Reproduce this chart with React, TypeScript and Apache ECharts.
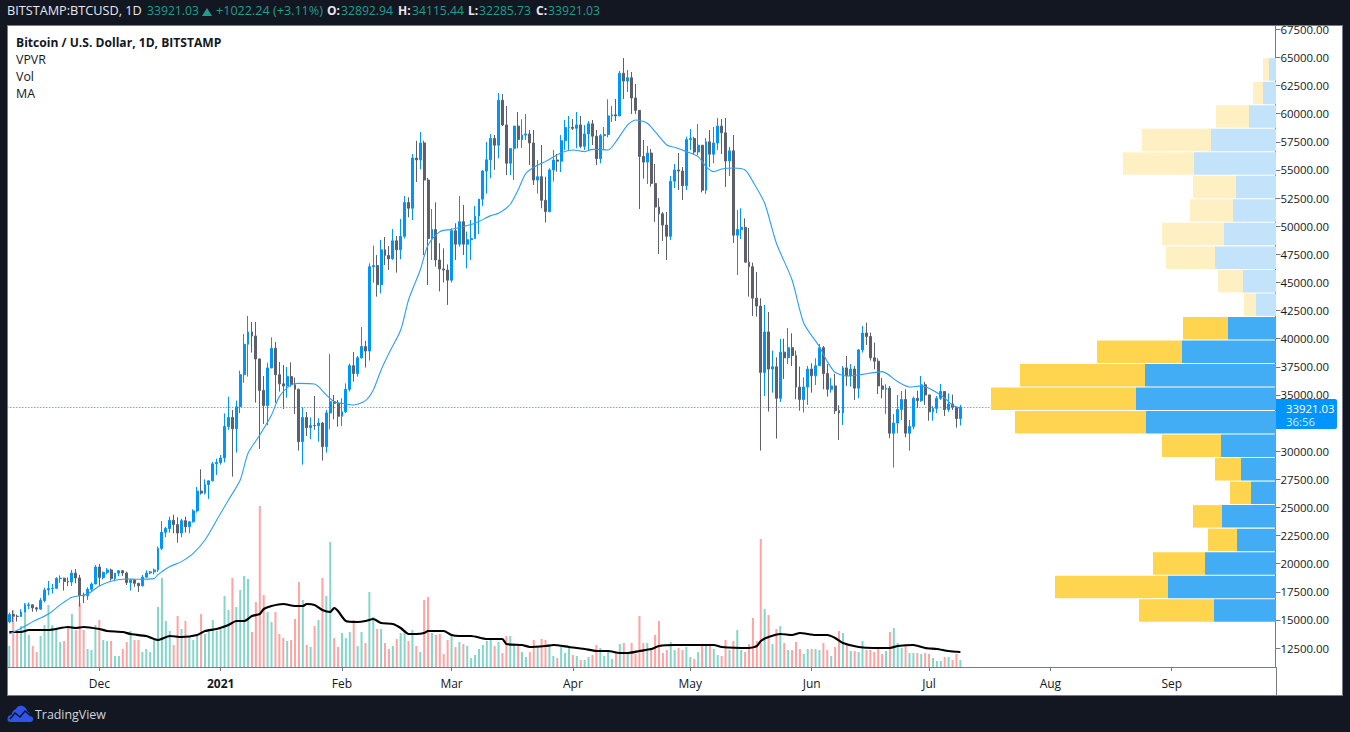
import React, { useEffect, useRef } from "react";
import * as echarts from "echarts";

const font = '"Open Sans", sans-serif';

const opens = [
  14830,15480,15330,15300,15700,16290,16340,16070,15960,16720,17660,17780,17810,18680,18710,18420,18370,19160,18730,17150,17140,17720,18190,
  19700,18770,19220,19440,18660,19150,19370,19170,18320,18550,18250,18030,18800,19170,19270,19440,21360,22790,23120,23850,23470,22720,23820,23280,23720,24690,26450,26270,27030,27360,28870,
  28990,29390,32190,33000,31990,33950,36800,39500,40600,40240,38200,35400,34050,37400,39150,36800,35990,35800,36630,35900,35500,30850,33000,32090,32280,32260,32500,30400,33400,34400,34250,
  33100,33500,35500,37600,36900,38300,39300,38900,46400,46500,44800,47900,47400,47100,48700,47900,49100,52100,51600,56060,55890,57400,54100,48900,49700,47000,46200,46100,
  45200,49600,48400,50400,48400,48800,48900,50900,52400,54900,55900,57800,57200,61200,59000,55600,56900,58900,57700,58100,58200,57400,54100,54400,52300,51300,55000,55880,55780,57600,58780,
  58800,58700,59000,57100,58200,59100,58000,56000,58050,58150,59800,59900,59800,63600,62900,63200,61400,60300,56200,55700,56500,53800,51700,51100,50100,49100,54000,55000,54900,53600,
  57700,57800,56600,57200,53200,57500,56400,57400,58900,58300,55800,56700,49200,49700,49900,46800,46400,43600,42900,37000,40600,37300,37500,34700,38800,38300,39200,38500,35700,34600,35700,
  37300,36700,37600,39200,36900,35500,35800,33600,33400,37400,36700,37300,35600,39000,40500,40200,38300,38000,35800,35500,35600,31600,32500,33700,34600,31600,32200,34700,34500,35900,
  35000,33500,33800,34700,35300,33700,34200,33900,32892.94,
];
const closes = [
  15480,15330,15300,15700,16290,16340,16070,15960,16720,17660,17780,17810,18680,18710,18420,18370,19160,18730,17150,17140,17720,18190,19700,
  18770,19220,19440,18660,19150,19370,19170,18320,18550,18250,18030,18800,19170,19270,19440,21360,22790,23120,23850,23470,22720,23820,23280,23720,24690,26450,26270,27030,27360,28870,28990,
  29390,32190,33000,31990,33950,36800,39500,40600,40240,38200,35400,34050,37400,39150,36800,35990,35800,36630,35900,35500,30850,33000,32090,32280,32260,32500,30400,33400,34400,34250,33100,
  33500,35500,37600,36900,38300,39300,38900,46400,46500,44800,47900,47400,47100,48700,47900,49100,52100,51600,56060,55890,57400,54100,48900,49700,47000,46200,46100,45200,
  49600,48400,50400,48400,48800,48900,50900,52400,54900,55900,57800,57200,61200,59000,55600,56900,58900,57700,58100,58200,57400,54100,54400,52300,51300,55000,55880,55780,57600,58780,58800,
  58700,59000,57100,58200,59100,58000,56000,58050,58150,59800,59900,59800,63600,62900,63200,61400,60300,56200,55700,56500,53800,51700,51100,50100,49100,54000,55000,54900,53600,57700,
  57800,56600,57200,53200,57500,56400,57400,58900,58300,55800,56700,49200,49700,49900,46800,46400,43600,42900,37000,40600,37300,37500,34700,38800,38300,39200,38500,35700,34600,35700,37300,
  36700,37600,39200,36900,35500,35800,33600,33400,37400,36700,37300,35600,39000,40500,40200,38300,38000,35800,35500,35600,31600,32500,33700,34600,31600,32200,34700,34500,35900,35000,
  33500,33800,34700,35300,33700,34200,33900,32900,33921.03,
];
const highs = [
  15650,15830,15470,15950,16480,16540,16340,16170,16950,17860,18460,18190,18800,18960,18750,18770,19440,19520,19000,17420,17900,18340,19880,
  19970,19300,19600,19560,19180,19430,19420,19290,18650,18600,18290,18990,19400,19350,19570,21520,23780,23280,24170,24350,24120,23990,24180,23800,24830,26816,28386,27500,27400,29040,29335,
  29660,33360,34840,33660,34500,37160,40420,42020,41480,41480,38230,36680,37870,40120,39700,37930,37660,37480,37900,36540,35560,33900,33480,33000,34900,32920,32600,33660,38640,35000,34550,
  34700,36030,37790,38820,38460,41040,39800,46700,48270,47440,48780,49040,48240,49750,49130,50640,52680,52570,56420,57600,58380,57600,54300,51530,52120,48480,48030,46600,
  49800,50260,52690,51890,49520,50550,51800,52100,55000,57490,58200,58110,61840,61750,60690,56950,58900,60150,59500,59980,58550,58550,55890,57220,54400,55150,56780,56420,58100,59440,59800,
  59530,60150,59800,58990,59350,59440,58550,58200,58820,61280,60690,61310,63800,64950,63890,63710,62640,60300,57660,57130,56860,55530,52500,51270,51270,54460,55530,56510,55260,57960,
  58640,57950,59090,57200,57840,58550,58820,59620,59530,59620,57040,58110,51440,51590,50700,49840,46760,45930,43590,43000,42370,38940,38340,39970,40000,40950,40480,38940,37520,36560,37570,
  37810,38260,39530,39350,37750,36510,36860,34080,37570,38460,37750,37570,39080,41130,41430,40540,39650,38260,36510,35950,35800,33300,34990,35350,35500,32770,34850,35380,36680,36150,
  35000,34000,34900,35970,35300,35140,35030,33900,34115.44,
];
const lows = [
  14700,14800,14850,15260,15700,15960,15720,15730,15870,16555,17200,17350,17750,18300,17600,18000,18020,18250,16180,16500,16770,17500,18180,
  18000,18600,19050,18490,18430,18880,18900,18100,17600,17930,17480,17980,18740,19050,19050,19270,21200,22350,22750,22700,21870,22350,22760,22700,23650,24535,26135,26140,25750,27320,27880,
  28800,29000,31890,27740,29870,33370,36080,36630,38760,34320,30200,32420,32300,37370,34310,35300,33750,34760,35740,33300,30050,28800,31350,31060,31900,30850,29160,29870,31940,32830,32180,
  32240,33400,35300,36180,36630,38220,37430,38050,44980,43740,44030,46550,46110,47000,45870,47060,48900,50790,50550,53930,55050,47440,44770,47000,46400,44200,45000,43000,
  45000,47000,48180,47440,46250,47000,48900,49300,51800,52900,54260,55000,56030,58900,54540,54540,54100,56930,56950,57660,55440,53660,52900,51590,50320,51240,53960,54850,54820,56780,56780,
  58550,56930,56930,56780,56780,57220,55440,55590,56780,57900,59260,59350,59800,61310,61930,59980,59980,51530,54230,53750,53520,50380,47530,48690,47000,48780,53400,53220,52330,53220,
  56780,56420,56330,53010,52870,55270,55590,56780,56420,53490,54460,48510,45660,48860,46800,43740,42020,41960,30050,34910,33520,35200,31120,34370,36420,37750,37570,34610,33600,33430,34110,
  35200,35880,37600,35500,34850,35200,33310,31000,32330,35800,35740,34550,34700,38760,39440,38050,37280,35080,34700,33310,31150,28540,31590,32770,31230,30050,31950,33840,34370,34110,
  32710,32710,33370,34550,33130,33500,33660,32090,32285.73,
];
const volumes = [
  21,57,34,41,64,32,21,15,31,42,62,42,39,25,26,39,53,37,64,37,18,17,42,47,27,26,26,11,11,18,25,36,27,27,15,18,15,27,60,89,46,36,22,51,38,46,30,27,31,53,33,38,47,36,38,71,57,89,60,77,91,88,35,65,161,72,55,45,55,33,29,26,27,48,85,67,22,20,41,47,89,71,125,29,20,
  34,29,35,47,21,35,24,75,50,38,38,24,18,21,28,34,37,26,37,21,15,67,70,34,32,33,13,27,33,20,25,23,21,9,12,18,22,26,27,21,25,14,31,31,22,21,15,10,15,27,20,28,27,21,11,9,20,14,19,12,11,7,7,10,12,22,19,11,15,8,15,23,24,15,24,13,51,24,24,
  19,32,46,14,17,25,17,19,17,20,10,8,15,23,21,23,18,12,11,27,17,26,37,17,15,23,49,26,128,58,52,23,38,41,24,17,17,25,18,13,18,18,18,17,24,17,11,20,36,34,22,16,16,15,26,17,17,15,18,13,16,35,39,24,19,21,14,14,14,13,14,13,9,6,6,10,10,7,13,7,
];
// moving average of price: [candle index, price]
const maDays = [0,3,6,10,13,16,20,23,26,30,33,37,38,41,44,47,50,53,56,59,61,64,67,69,72,74,78,81,83,86,88,91,93,95,97,100,102,105,107,110,113,119,123,125,128,130,132,135,137,141,144,147,149,153,155,158,160,163,165,168,170,173,176,178,180,182,185,188,190,193,196,200,203,207,209,211,214,218,223,227,230,233,238,241,243];
const maValues = [13750,14250,14845,15530,16330,17010,17300,18010,18430,18640,18610,18670,19020,19740,20180,20920,22100,23880,25660,27440,29810,31440,33220,34850,35890,36030,35970,35000,34400,34200,34110,34490,35440,37220,38700,40770,43440,46110,48330,49520,49720,50260,50940,51150,51950,53220,54700,55440,55740,56540,56780,56630,56830,56780,57520,59000,59440,59150,58400,57220,57010,56630,56180,55300,54850,55090,55180,55000,53960,52040,48480,45220,41370,39290,37960,37010,36680,36830,37070,36180,35710,35800,35000,34110,33810];
// moving average of volume
const volMaDays = [0,3,5,10,15,17,19,23,25,29,31,35,38,41,44,48,50,53,56,58,60,62,64,65,67,70,73,75,76,78,80,82,83,84,86,89,91,93,95,98,100,102,104,106,107,111,113,115,118,122,126,127,131,133,137,139,143,147,150,153,156,158,161,164,166,170,174,180,182,189,191,192,194,197,200,202,206,209,211,213,217,221,225,227,231,234,237,240,243];
const volMaValues = [35,35,37,37,40,39,40,38,36,35,33,31,27,31,30,32,36,38,42,46,46,51,53,58,61,63,61,61,63,62,57,55,59,56,46,45,46,48,44,43,39,33,33,34,36,36,32,31,31,28,28,23,22,20,21,22,20,18,16,16,14,14,16,18,21,22,22,22,20,19,21,26,30,33,32,34,32,32,29,24,20,19,19,21,22,19,18,16,15];

const priceTicks = [12500,15000,17500,20000,22500,25000,27500,30000,32500,35000,37500,40000,42500,45000,47500,50000,52500,55000,57500,60000,62500,65000,67500];
// the 32500 label sits behind the last-price box in the reference
const priceLabels = priceTicks.filter((t) => t !== 32500);
const monthDates = ["2020-12-01","2021-01-01","2021-02-01","2021-03-01","2021-04-01","2021-05-01","2021-06-01","2021-07-01","2021-08-01","2021-09-01"];
const monthLabels = ["Dec","2021","Feb","Mar","Apr","May","Jun","Jul","Aug","Sep"];

// volume profile rows, top to bottom
const vpBins = ["64000","62000","60000","57900","55800","53700","51600","49500","47400","45300","43200","41100","39000","36900","34800","32700","30600","28500","26400","24300","22200","20100","18000","15900"];
const vpUp = [7,13,27,65,82,40,43,52,61,33,20,48,94,131,140,130,55,35,25,54,39,71,108,62];
const vpDown = [6,10,33,69,71,43,43,62,49,25,12,45,85,125,145,131,59,26,21,29,29,52,113,75];
const vpFadedRows = 11;

const dates: string[] = [];
for (let i = 0; i < 324; i++) {
  dates.push(new Date(Date.UTC(2020, 10, 8 + i)).toISOString().slice(0, 10));
}

const BLUE = "#0094ff";
const GREY = "#5d606b";
const TEAL = "#84d6cb";
const PINK = "#ffa3a3";
const FRAME = "#787b86";
const HEADTEAL = "#1f9e90";
const HEADWHITE = "#e6e8ee";

echarts.graphic.registerShape(
  "tvCloud",
  echarts.graphic.extendPath(
    "M3 17 C0.5 17 0 14 1 12 C1.5 10.5 3 10 4.5 10 C5 6.5 7 5 9 4 C10 1 13 0 15.5 1 C18 1.5 19.5 3.5 20 6 C22 7 23 9 23 11 C25.5 11.5 26.5 13 26 15 C25.5 16.5 24.5 17 23 17 Z",
    {}
  )
);

function headerText(text: string, x: number, color: string, style = "12.2px") {
  return { type: "text", z: 61, x, y: 10, style: { text, fill: color, font: `${style} ${font}`, textVerticalAlign: "middle" } };
}

export default function App() {
  const ref = useRef<HTMLDivElement>(null);
  useEffect(() => {
    const chart = echarts.init(ref.current!, undefined, { renderer: "svg" });
    const candleData = opens.map((o, i) => [o, closes[i], lows[i], highs[i]]);
    const volData = volumes.map((v, i) => ({
      value: v,
      itemStyle: { color: closes[i] >= opens[i] ? TEAL : PINK },
    }));
    chart.setOption({
      animation: false,
      backgroundColor: "transparent",
      textStyle: { fontFamily: font },
      grid: [
        { left: 7.34, width: 1268.1, top: 26, height: 641 },
        { left: 976, width: 300, top: 57.7, height: 564.5 },
      ],
      xAxis: [
        {
          type: "category",
          gridIndex: 0,
          data: dates,
          boundaryGap: true,
          axisLine: { show: true, lineStyle: { color: FRAME, width: 1 } },
          axisTick: {
            show: true,
            alignWithLabel: true,
            length: 4,
            lineStyle: { color: FRAME },
            interval: (_: number, v: string) => monthDates.includes(v),
          },
          axisLabel: {
            show: true,
            margin: 10,
            color: "#131722",
            fontFamily: font,
            fontSize: 12,
            interval: (_: number, v: string) => monthDates.includes(v),
            formatter: (v: string) => {
              const k = monthDates.indexOf(v);
              const t = monthLabels[k] ?? "";
              return t === "2021" ? `{b|${t}}` : t;
            },
            rich: { b: { fontWeight: "bold", fontSize: 12, fontFamily: font, color: "#131722" } },
          },
          splitLine: { show: false },
        },
        { type: "value", gridIndex: 1, inverse: true, min: 0, max: 300, show: false },
      ],
      yAxis: [
        {
          type: "value",
          gridIndex: 0,
          position: "right",
          min: 10811,
          max: 67798,
          scale: true,
          splitLine: { show: false },
          axisLine: { show: true, lineStyle: { color: FRAME, width: 1 } },
          axisTick: { show: true, length: 5, lineStyle: { color: FRAME }, customValues: priceTicks },
          axisLabel: {
            show: true,
            color: "#131722",
            fontFamily: font,
            fontSize: 11.4,
            margin: 5,
            customValues: priceLabels,
            formatter: (v: number) => v.toFixed(2),
          },
        },
        { type: "value", gridIndex: 0, min: 0, max: 641, show: false },
        { type: "category", gridIndex: 1, inverse: true, data: vpBins, show: false },
      ],
      series: [
        {
          type: "bar",
          name: "Vol",
          xAxisIndex: 0,
          yAxisIndex: 1,
          data: volData,
          barWidth: 2,
          z: 1,
        },
        {
          type: "line",
          name: "Vol MA",
          xAxisIndex: 0,
          yAxisIndex: 1,
          data: volMaDays.map((d, i) => [d, volMaValues[i]]),
          showSymbol: false,
          smooth: 0.2,
          lineStyle: { color: "#000000", width: 2.2 },
          z: 2,
        },
        {
          type: "candlestick",
          name: "BTCUSD",
          xAxisIndex: 0,
          yAxisIndex: 0,
          data: candleData,
          barWidth: 2.4,
          clip: false,
          itemStyle: {
            color: BLUE,
            color0: GREY,
            borderColor: BLUE,
            borderColor0: GREY,
            borderWidth: 1,
          },
          z: 3,
          markLine: {
            silent: true,
            symbol: "none",
            label: { show: false },
            lineStyle: { color: BLUE, type: [1, 2], width: 1 },
            data: [{ yAxis: 33921.03 }],
          },
        },
        {
          type: "line",
          name: "MA",
          xAxisIndex: 0,
          yAxisIndex: 0,
          data: maDays.map((d, i) => [d, maValues[i]]),
          showSymbol: false,
          smooth: 0.25,
          lineStyle: { color: "#2e9df5", width: 1.1 },
          z: 4,
        },
        {
          type: "bar",
          name: "VP up",
          xAxisIndex: 1,
          yAxisIndex: 2,
          stack: "vp",
          barWidth: 22.5,
          data: vpUp.map((v, i) => ({ value: v, itemStyle: { color: i < vpFadedRows ? "#c3e3fa" : "#42adf5" } })),
          z: 5,
        },
        {
          type: "bar",
          name: "VP down",
          xAxisIndex: 1,
          yAxisIndex: 2,
          stack: "vp",
          barWidth: 22.5,
          data: vpDown.map((v, i) => ({ value: v, itemStyle: { color: i < vpFadedRows ? "#fff0c4" : "#ffd54f" } })),
          z: 5,
        },
      ],
      graphic: [
        { type: "rect", z: 60, shape: { x: 0, y: 0, width: 1350, height: 25 }, style: { fill: "#131722" } },
        { type: "line", z: 60, shape: { x1: 7, y1: 25.5, x2: 1343, y2: 25.5 }, style: { stroke: FRAME, lineWidth: 1 } },
        { type: "line", z: 60, shape: { x1: 1276.5, y1: 667, x2: 1276.5, y2: 695 }, style: { stroke: FRAME, lineWidth: 1 } },
        headerText("BITSTAMP:BTCUSD, 1D", 7, HEADWHITE, "12.7px"),
        headerText("33921.03", 147, HEADTEAL),
        { type: "polygon", z: 61, shape: { points: [[202, 16], [212, 16], [207, 8]] }, style: { fill: HEADTEAL } },
        headerText("+1022.24 (+3.11%)", 216, HEADTEAL, "12.6px"),
        headerText("O:", 327, HEADWHITE, "bold 12px"),
        headerText("32892.94", 341, HEADTEAL),
        headerText("H:", 398, HEADWHITE, "bold 12px"),
        headerText("34115.44", 412, HEADTEAL),
        headerText("L:", 468, HEADWHITE, "bold 12px"),
        headerText("32285.73", 479, HEADTEAL),
        headerText("C:", 536, HEADWHITE, "bold 12px"),
        headerText("33921.03", 548, HEADTEAL),
        { type: "text", z: 30, x: 16, y: 42, style: { text: "Bitcoin / U.S. Dollar, 1D, BITSTAMP", fill: "#131722", font: `bold 12.1px ${font}`, textVerticalAlign: "middle" } },
        { type: "text", z: 30, x: 16, y: 59, style: { text: "VPVR", fill: "#131722", font: `12.4px ${font}`, textVerticalAlign: "middle" } },
        { type: "text", z: 30, x: 16, y: 76, style: { text: "Vol", fill: "#131722", font: `12.4px ${font}`, textVerticalAlign: "middle" } },
        { type: "text", z: 30, x: 16, y: 93, style: { text: "MA", fill: "#131722", font: `12.4px ${font}`, textVerticalAlign: "middle" } },
        { type: "rect", z: 30, shape: { x: 1276, y: 399, width: 61, height: 30, r: [0, 2, 2, 0] }, style: { fill: BLUE } },
        { type: "text", z: 31, x: 1286, y: 408, style: { text: "33921.03", fill: "#ffffff", font: `11.4px ${font}`, textVerticalAlign: "middle" } },
        { type: "text", z: 31, x: 1286, y: 421, style: { text: "36:56", fill: "#d6ecff", font: `11.4px ${font}`, textVerticalAlign: "middle" } },
        { type: "tvCloud", z: 30, x: 7, y: 705, style: { fill: "#2f54eb" } },
        { type: "polyline", z: 31, shape: { points: [[10, 719], [15, 713], [20, 717], [25, 711], [31, 716]] }, style: { stroke: "#131722", lineWidth: 1.5, fill: "none" } },
        { type: "text", z: 30, x: 35, y: 714, style: { text: "TradingView", fill: "#d1d4dc", font: `12.4px ${font}`, textVerticalAlign: "middle" } },
      ],
    });
    return () => chart.dispose();
  }, []);

  return (
    <div style={{ position: "absolute", left: 0, top: 0, width: 1350, height: 732, background: "#131722", overflow: "hidden" }}>
      <div style={{ position: "absolute", left: 7, top: 25, width: 1334, height: 669, background: "#ffffff", border: `1px solid ${FRAME}` }} />
      <div ref={ref} style={{ position: "absolute", left: 0, top: 0, width: 1350, height: 732 }} />
    </div>
  );
}
